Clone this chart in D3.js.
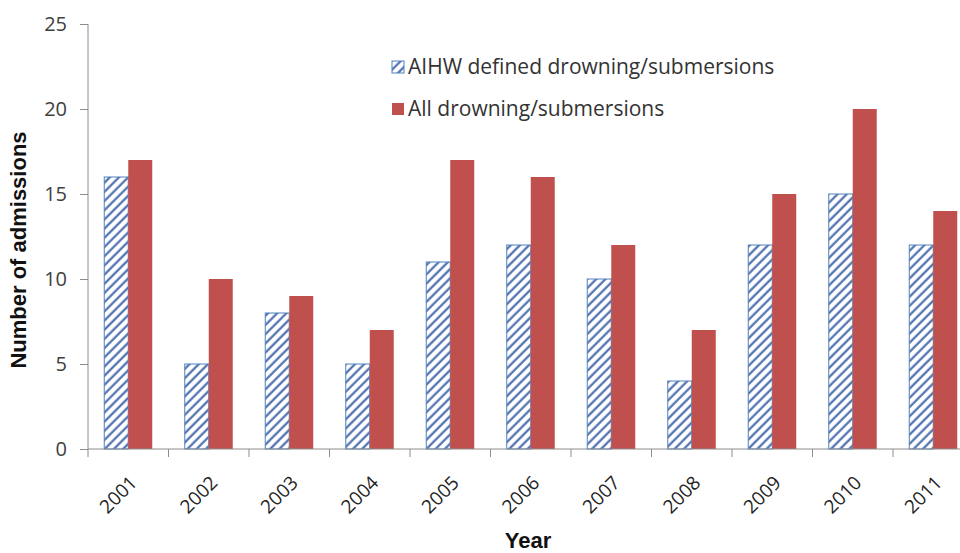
<!DOCTYPE html>
<html><head><meta charset="utf-8">
<script src="https://cdn.jsdelivr.net/npm/d3@7/dist/d3.min.js"></script>
<style>body{margin:0;background:#fff}svg{display:block}</style>
</head><body>
<svg id="c" width="960" height="553"></svg>
<script>
const years = ["2001","2002","2003","2004","2005","2006","2007","2008","2009","2010","2011"];
const aihw = [16,5,8,5,11,12,10,4,12,15,12];
const allDrown = [17,10,9,7,17,16,12,7,15,20,14];
const seriesNames = ["AIHW defined drowning/submersions","All drowning/submersions"];
const yTicks = [0,5,10,15,20,25];

const svg = d3.select("#c");
const x = d3.scaleBand().domain(years).range([88, 88 + 80.5*11]).paddingInner(0).paddingOuter(0);
const y = d3.scaleLinear().domain([0,25]).range([449,24]);
const font = "'Open Sans', sans-serif";

const defs = svg.append("defs");
const pat = defs.append("pattern").attr("id","hatch").attr("patternUnits","userSpaceOnUse")
  .attr("width",6.5).attr("height",6.5).attr("patternTransform","rotate(45)");
pat.append("rect").attr("width",6.5).attr("height",6.5).attr("fill","#fff");
pat.append("line").attr("x1",1.5).attr("y1",0).attr("x2",1.5).attr("y2",6.5)
  .attr("stroke","#4568ac").attr("stroke-width",2.1);

const bw = 24;
const g = svg.append("g");
years.forEach((yr,i)=>{
  const cx = x(yr) + x.bandwidth()/2;
  g.append("rect").attr("x",cx-bw).attr("y",y(aihw[i])).attr("width",bw).attr("height",y(0)-y(aihw[i]))
    .attr("fill","url(#hatch)").attr("stroke","#4f81bd").attr("stroke-width",1);
  g.append("rect").attr("x",cx).attr("y",y(allDrown[i])).attr("width",bw).attr("height",y(0)-y(allDrown[i]))
    .attr("fill","#c0504d");
});

// y axis
const ya = svg.append("g").attr("transform","translate(88,0)")
  .call(d3.axisLeft(y).tickValues(yTicks).tickSize(8).tickPadding(13));
ya.select(".domain").attr("stroke","#8c8c8c").attr("d","M0,24V449");
ya.selectAll(".tick line").attr("stroke","#8c8c8c");
ya.selectAll("text").attr("font-family",font).attr("font-size",20).attr("fill","#404040");

// x axis
const xa = svg.append("g").attr("transform","translate(0,449)")
  .call(d3.axisBottom(x).tickSize(0).tickPadding(0));
xa.select(".domain").attr("stroke","#8c8c8c").attr("d","M88,0H970");
xa.selectAll(".tick line").remove();
const bounds = years.map(yr=>x(yr));
xa.selectAll(".btick").data(bounds).enter().append("line").attr("class","btick")
  .attr("x1",d=>d).attr("x2",d=>d).attr("y1",0).attr("y2",8).attr("stroke","#8c8c8c");
xa.selectAll(".tick text").attr("font-family",font).attr("font-size",19).attr("fill","#222")
  .attr("text-anchor","end").attr("dy",0)
  .attr("transform","translate(10,35) rotate(-45)");

// axis titles
svg.append("text").attr("x",528).attr("y",548).attr("text-anchor","middle")
  .attr("font-family","'Liberation Sans', Arial, sans-serif").attr("font-weight","bold").attr("font-size",22)
  .attr("fill","#111").text("Year");
svg.append("text").attr("transform","translate(26,250) rotate(-90)").attr("text-anchor","middle")
  .attr("font-family","'Liberation Sans', Arial, sans-serif").attr("font-weight","bold").attr("font-size",22)
  .attr("fill","#111").text("Number of admissions");

// legend
const lg = svg.append("g");
const lrows = [{y:67, fill:"url(#hatch)", stroke:"#4f81bd"},{y:109, fill:"#c0504d", stroke:"none"}];
lrows.forEach((r,i)=>{
  lg.append("rect").attr("x",392).attr("y",r.y-6).attr("width",12).attr("height",12)
    .attr("fill",r.fill).attr("stroke",r.stroke);
  lg.append("text").attr("x",408).attr("y",r.y+7).attr("font-family",font).attr("font-size",21)
    .attr("fill","#333").text(seriesNames[i]);
});
</script>
</body></html>
